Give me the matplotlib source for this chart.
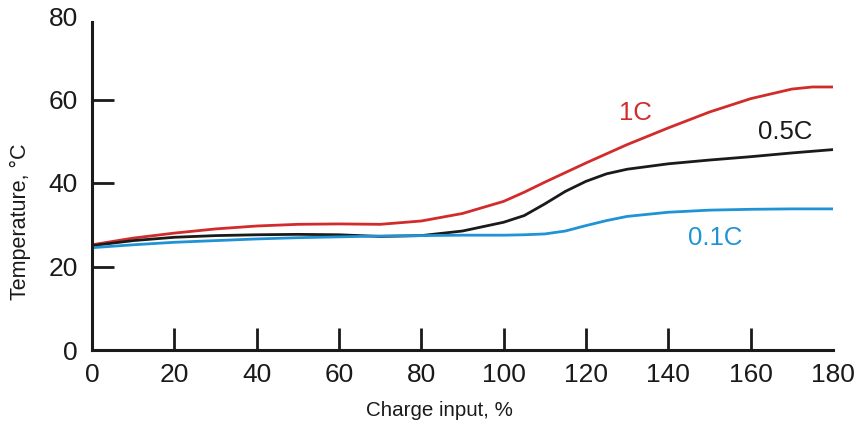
import matplotlib
matplotlib.use("Agg")
import matplotlib.pyplot as plt
import numpy as np

plt.rcParams['font.family'] = ['Liberation Sans', 'DejaVu Sans']

# Charge input (%) sample points
charge = [0, 10, 20, 30, 40, 50, 60, 70, 80, 90, 100, 105, 110, 115, 120, 125,
          130, 140, 150, 160, 170, 175, 180]

# Cell temperature (deg C) at each charge rate
temp_1c = [25.2, 26.8, 28.0, 29.0, 29.7, 30.1, 30.2, 30.1, 30.9, 32.7, 35.6, 37.8,
           40.2, 42.5, 44.8, 47.0, 49.2, 53.2, 57.0, 60.2, 62.5, 63.0, 63.0]
temp_05c = [25.0, 26.2, 27.0, 27.4, 27.6, 27.7, 27.6, 27.2, 27.4, 28.5, 30.6, 32.2,
            35.0, 38.0, 40.4, 42.2, 43.3, 44.6, 45.5, 46.3, 47.2, 47.6, 48.0]
temp_01c = [24.5, 25.2, 25.8, 26.2, 26.6, 26.9, 27.1, 27.3, 27.4, 27.5, 27.5, 27.6,
            27.8, 28.5, 29.8, 31.0, 32.0, 33.0, 33.5, 33.7, 33.8, 33.8, 33.8]

series = [
    (temp_1c, '#d22b2b', '1C', 132, 56.8),
    (temp_05c, '#1a1a1a', '0.5C', 168.3, 52.2),
    (temp_01c, '#1f93d6', '0.1C', 151.3, 26.8),
]

x_ticks = np.arange(0, 181, 20)
y_ticks = np.arange(0, 81, 20)

fig = plt.figure(figsize=(8.63, 4.25), dpi=100)
ax = fig.add_axes([92 / 863, 1 - 350 / 425, (833 - 92) / 863, (350 - 16) / 425])

for vals, color, label, lx, ly in series:
    ax.plot(charge, vals, color=color, lw=2.0, solid_capstyle='butt',
            solid_joinstyle='round')
    ax.text(lx, ly, label, color=color, fontsize=18.5, ha='center', va='center')

ax.set_xlim(0, 180)
ax.set_ylim(0, 80)

for side in ('top', 'right'):
    ax.spines[side].set_visible(False)
for side in ('left', 'bottom'):
    ax.spines[side].set_linewidth(2.2)
    ax.spines[side].set_color('#1a1a1a')
ax.spines['left'].set_bounds(0, 78.5)

ax.set_xticks(x_ticks)
ax.set_yticks(y_ticks)
ax.tick_params(axis='both', which='major', direction='in', length=16, width=2.0,
               color='#1a1a1a', labelsize=19, labelcolor='#1a1a1a')
ax.tick_params(axis='x', which='major', pad=9)
ax.tick_params(axis='y', which='major', pad=10)

# No tick marks at the ends of either axis, only the labels
fig.canvas.draw()
for ticks in (ax.xaxis.get_major_ticks(), ax.yaxis.get_major_ticks()):
    ticks[0].tick1line.set_visible(False)
    ticks[-1].tick1line.set_visible(False)

fig.text(439 / 863, 1 - 410 / 425, 'Charge input, %', fontsize=14.8,
         ha='center', va='center', color='#1a1a1a')
fig.text(20 / 863, 1 - 222 / 425, 'Temperature, \u00b0C', fontsize=15.5,
         rotation=90, ha='center', va='center', color='#1a1a1a')

fig.savefig('out.png', dpi=100)
